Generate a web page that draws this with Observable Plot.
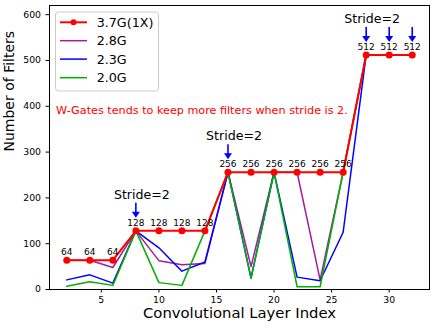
<!DOCTYPE html>
<html><head><meta charset="utf-8">
<script src="https://cdn.jsdelivr.net/npm/d3@7"></script>
<script src="https://cdn.jsdelivr.net/npm/@observablehq/plot@0.6"></script>
<style>
body{margin:0;background:#fff;}
#wrap{position:relative;width:436px;height:327px;font-family:"DejaVu Sans";}
#wrap svg.overlay{position:absolute;left:0;top:0;pointer-events:none;}
</style></head><body><div id="wrap"></div>
<script>
// ---- data ----
const layers = [2,4,6,8,10,12,14,16,18,20,22,24,26,28,30,32];
const f37 = [64,64,64,128,128,128,128,256,256,256,256,256,256,512,512,512];
const f28 = [64,64,48,128,63,54,57,256,50,256,256,21,256,512,512,512];
const f23 = [21,32,14,128,91,40,60,256,25,256,27,19,125,512,512,512];
const f20 = [7,17,9,128,15,9,128,256,25,256,6,6,256,512,512,512];
const seriesNames = ["3.7G(1X)","2.8G","2.3G","2.0G"];
const seriesColors = ["#ff0000","#a01ca0","#0000ff","#00b000"];
const strideArrowLayers = [8,16,28,30,32];
const strideTextLayers = [8,16,28];
const strideLabel = "Stride=2";
const noteText = "W-Gates tends to keep more filters when stride is 2.";
const noteX = [1.07];
const noteY = [392];
const xTicks = [5,10,15,20,25,30];
const yTicks = [0,100,200,300,400,500,600];
const xLabel = "Convolutional Layer Index";
const yLabel = "Number of Filters";

// ---- tables ----
const mk = (vals) => layers.map((l, i) => ({layer: l, value: vals[i]}));
const s37 = mk(f37), s28 = mk(f28), s23 = mk(f23), s20 = mk(f20);
const valAt = (l) => f37[layers.indexOf(l)];
const arrows = strideArrowLayers.map(l => ({layer: l, value: valAt(l)}));
const strideTexts = strideTextLayers.map(l => ({layer: l, value: valAt(l)}));
const notes = noteX.map((x, i) => ({x, y: noteY[i], text: noteText}));

// custom downward arrow symbol (fixed pixel size)
const arrowSymbol = {
  draw(ctx) {
    const hw = 0.8, top = -7.5, hb = 1.5, tip = 7.5, hh = 4;
    ctx.moveTo(-hw, top); ctx.lineTo(hw, top); ctx.lineTo(hw, hb);
    ctx.lineTo(hh, hb); ctx.lineTo(0, tip); ctx.lineTo(-hh, hb);
    ctx.lineTo(-hw, hb); ctx.closePath();
  }
};

const chart = Plot.plot({
  width: 436, height: 327,
  marginLeft: 49, marginRight: 7, marginTop: 5, marginBottom: 38,
  style: {fontFamily: "DejaVu Sans", color: "black", background: "white", overflow: "visible"},
  x: {domain: [0.5, 33.5]},
  y: {domain: [0, 620]},
  marks: [
    Plot.axisX({ticks: xTicks, tickSize: 3.5, tickPadding: 3, fontSize: 9.3, label: null, stroke: "black"}),
    Plot.axisY({ticks: yTicks, tickSize: 3.5, tickPadding: 5, fontSize: 9.3, label: null, stroke: "black"}),
    Plot.line(s28, {x: "layer", y: "value", stroke: seriesColors[1], strokeWidth: 1.5}),
    Plot.line(s23, {x: "layer", y: "value", stroke: seriesColors[2], strokeWidth: 1.5}),
    Plot.line(s20, {x: "layer", y: "value", stroke: seriesColors[3], strokeWidth: 1.5}),
    Plot.line(s37, {x: "layer", y: "value", stroke: seriesColors[0], strokeWidth: 2}),
    Plot.dot(s37, {x: "layer", y: "value", fill: seriesColors[0], r: 3.5}),
    Plot.text(s37, {x: "layer", y: "value", text: d => String(d.value), dy: -8, fontSize: 9, fill: "black"}),
    Plot.dot(arrows, {x: "layer", y: "value", dy: -20.5, symbol: arrowSymbol, fill: "#0000ff", stroke: "none", r: 5}),
    Plot.text(strideTexts, {x: "layer", y: "value", text: () => strideLabel, dy: -36, dx: 6, fontSize: 12.6, fill: "black"}),
    Plot.text(notes, {x: "x", y: "y", text: "text", textAnchor: "start", fontSize: 11.2, fill: "#ff0000"}),
    Plot.text([xLabel], {frameAnchor: "bottom", dy: 28.3, fontSize: 14.8, fill: "black"}),
    Plot.text([yLabel], {frameAnchor: "left", dx: -40, dy: 4, rotate: -90, fontSize: 14, fill: "black"}),
    Plot.frame({stroke: "black", strokeWidth: 1})
  ]
});
const wrap = document.getElementById("wrap");
wrap.appendChild(chart);

// ---- legend overlay ----
const ov = d3.select(wrap).append("svg").attr("class", "overlay")
  .attr("width", 436).attr("height", 327);
ov.append("rect").attr("x", 55.5).attr("y", 12).attr("width", 103).attr("height", 79)
  .attr("rx", 3).attr("fill", "white").attr("fill-opacity", 0.8).attr("stroke", "#cccccc");
const rowsY = [22.3, 40.7, 59.1, 77.7];
seriesNames.forEach((name, i) => {
  const y = rowsY[i];
  ov.append("line").attr("x1", 60).attr("x2", 87).attr("y1", y).attr("y2", y)
    .attr("stroke", seriesColors[i]).attr("stroke-width", i === 0 ? 2 : 1.5);
  if (i === 0) ov.append("circle").attr("cx", 73.5).attr("cy", y).attr("r", 3).attr("fill", seriesColors[0]);
  ov.append("text").attr("x", 96.7).attr("y", y + 4.6).attr("font-size", 12.7)
    .attr("font-family", "DejaVu Sans").attr("fill", "black").text(name);
});
</script></body></html>
